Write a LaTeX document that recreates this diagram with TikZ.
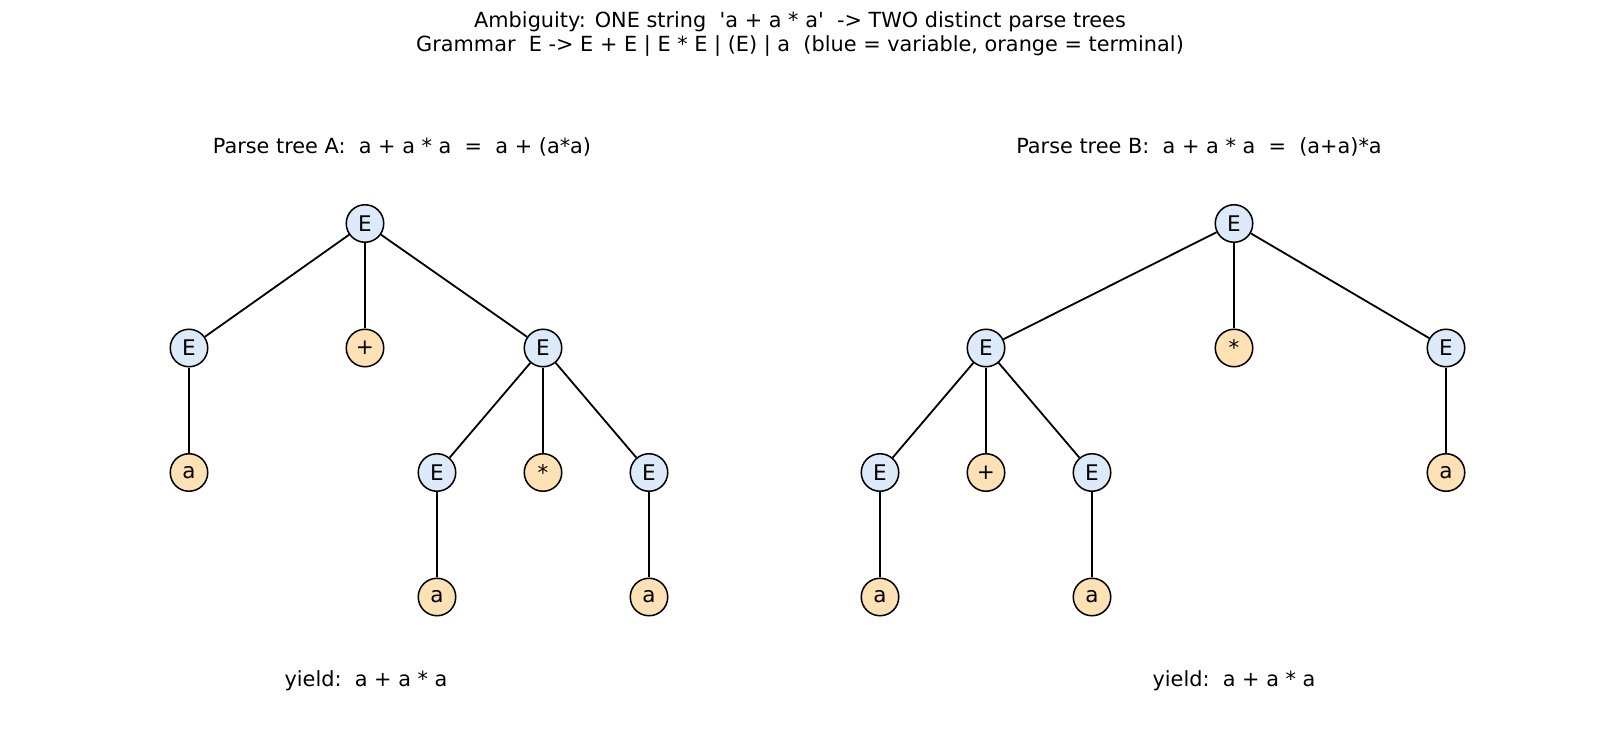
\documentclass[tikz,border=0pt]{standalone}
\usepackage{fontspec}
\setmainfont{DejaVu Sans}
\definecolor{varblue}{RGB}{220,234,250}
\definecolor{termorange}{RGB}{254,225,180}
\tikzset{
  var/.style={circle, draw, line width=1.1pt, fill=varblue, minimum size=27pt, inner sep=0pt, font=\fontsize{15.5}{17}\selectfont},
  term/.style={var, fill=termorange},
  edge/.style={line width=1.3pt},
  caption/.style={font=\fontsize{15}{17}\selectfont, align=center}
}

\begin{document}
\begin{tikzpicture}[x=0.72pt, y=-0.72pt]
    \useasboundingbox (0,0) rectangle (1600,735);

    \node[caption] at (800, 34)   (title) {Ambiguity: ONE string\ \ \textquotesingle a + a * a\textquotesingle\ \ -> TWO distinct parse trees\\Grammar\ \ E -> E + E | E * E | (E) | a\ \ (blue = variable, orange = terminal)};

    % tree A: a + (a*a)
    \node[caption] at (402, 147)   (titleA) {Parse tree A:\ \ a + a * a\ \ =\ \ a + (a*a)};
    \node[var]  at (365, 223.5) (A) {E};
    \node[var]  at (189, 348)   (A1) {E};
    \node[term] at (365, 348)   (A2) {+};
    \node[var]  at (543, 348)   (A3) {E};
    \node[term] at (189, 472.5) (A11) {a};
    \node[var]  at (437, 472.5) (A31) {E};
    \node[term] at (543, 472.5) (A32) {*};
    \node[var]  at (649, 472.5) (A33) {E};
    \node[term] at (437, 597)   (A311) {a};
    \node[term] at (649, 597)   (A331) {a};
    \draw[edge] (A) -- (A1);
    \draw[edge] (A) -- (A2);
    \draw[edge] (A) -- (A3);
    \draw[edge] (A1) -- (A11);
    \draw[edge] (A3) -- (A31);
    \draw[edge] (A3) -- (A32);
    \draw[edge] (A3) -- (A33);
    \draw[edge] (A31) -- (A311);
    \draw[edge] (A33) -- (A331);
    \node[caption] at (366, 681)   (yieldA) {yield:\ \ a + a * a};

    % tree B: (a+a)*a
    \node[caption] at (1199, 147)   (titleB) {Parse tree B:\ \ a + a * a\ \ =\ \ (a+a)*a};
    \node[var]  at (1234, 223.5) (B) {E};
    \node[var]  at (986, 348)    (B1) {E};
    \node[term] at (1234, 348)   (B2) {*};
    \node[var]  at (1446, 348)   (B3) {E};
    \node[var]  at (880, 472.5)  (B11) {E};
    \node[term] at (986, 472.5)  (B12) {+};
    \node[var]  at (1092, 472.5) (B13) {E};
    \node[term] at (1446, 472.5) (B31) {a};
    \node[term] at (880, 597)    (B111) {a};
    \node[term] at (1092, 597)   (B131) {a};
    \draw[edge] (B) -- (B1);
    \draw[edge] (B) -- (B2);
    \draw[edge] (B) -- (B3);
    \draw[edge] (B1) -- (B11);
    \draw[edge] (B1) -- (B12);
    \draw[edge] (B1) -- (B13);
    \draw[edge] (B3) -- (B31);
    \draw[edge] (B11) -- (B111);
    \draw[edge] (B13) -- (B131);
    \node[caption] at (1234, 681)  (yieldB) {yield:\ \ a + a * a};
\end{tikzpicture}
\end{document}
